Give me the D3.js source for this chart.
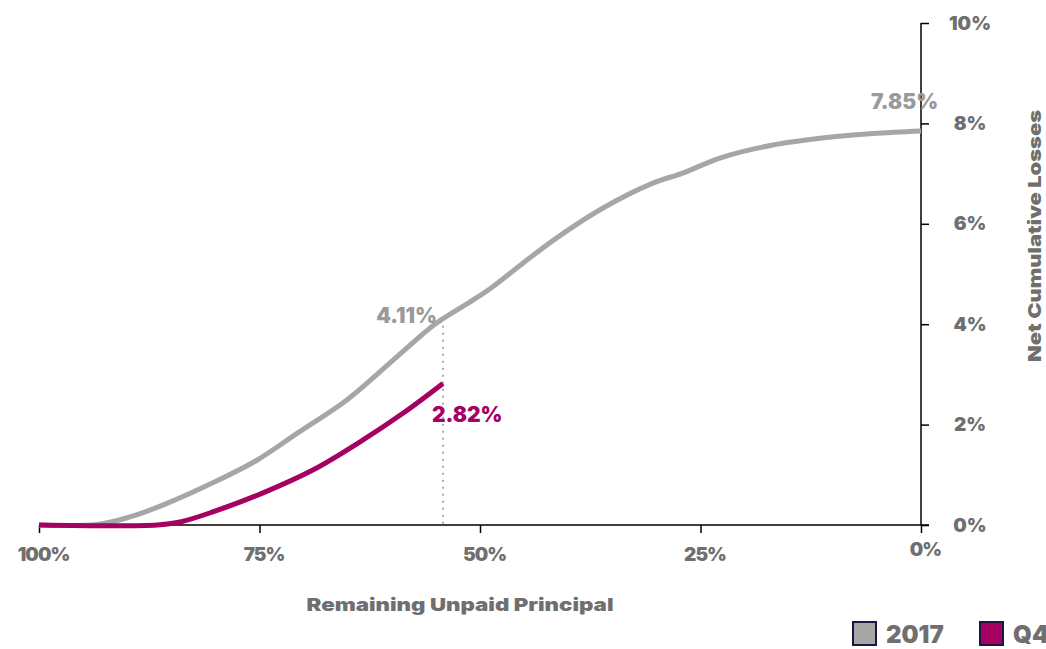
<!DOCTYPE html>
<html>
<head>
<meta charset="utf-8">
<script src="https://cdn.jsdelivr.net/npm/d3@7"></script>
<style>
  body { margin: 0; background: #fff; overflow: hidden; }
  text { font-family: Inter, "Open Sans", sans-serif; font-weight: 900; }
</style>
</head>
<body>
<div class="chart"></div>
<script>
// remaining unpaid principal (%) -> net cumulative losses (%)
const vintage2017Upb = [100, 93.4, 89.7, 85.9, 80.3, 75.3, 70.7, 65.1, 60.2, 55.7, 54.2, 50.8, 48.9, 45.1, 41.3, 36.1, 30.4, 27.0, 22.8, 16.8, 10.7, 5.4, 0];
const vintage2017Loss = [0, 0.01, 0.16, 0.40, 0.84, 1.29, 1.83, 2.49, 3.23, 3.92, 4.11, 4.48, 4.70, 5.22, 5.72, 6.31, 6.81, 7.01, 7.31, 7.57, 7.72, 7.80, 7.85];
const q4Upb = [100, 86.6, 84.0, 80.3, 74.6, 68.9, 63.3, 58.7, 54.2];
const q4Loss = [0, 0, 0.06, 0.26, 0.64, 1.10, 1.69, 2.23, 2.82];
const xTicks = [100, 75, 50, 25, 0];
const yTicks = [0, 2, 4, 6, 8, 10];
const legendLabels = ["2017", "Q4 2019"];

const grey = "#a6a6a6", magenta = "#a50062", labelGrey = "#6f6f6f";

const svg = d3.select(".chart").append("svg")
  .attr("width", 1046).attr("height", 649);

const x = d3.scaleLinear().domain([100, 0]).range([39, 921]);
const y = d3.scaleLinear().domain([0, 10]).range([525, 23]);

// axes
const xAxis = svg.append("g")
  .attr("transform", `translate(0, ${y(0)})`)
  .call(d3.axisBottom(x).tickValues(xTicks).tickSize(8).tickSizeOuter(0).tickFormat(d => d + "%"));
xAxis.select(".domain").attr("d", `M${x(100)},0H${x(0) + 8}`);
xAxis.selectAll("line, path").attr("stroke", "#000").attr("stroke-width", 1.5);
xAxis.selectAll("text")
  .attr("y", 23).attr("dx", 4)
  .attr("fill", labelGrey).style("font-size", "19px").style("letter-spacing", "-1px");
xAxis.selectAll(".tick").filter(d => d === 0).select("text").attr("y", 18);

const yAxis = svg.append("g")
  .attr("transform", `translate(${x(0)}, 0)`)
  .call(d3.axisRight(y).tickValues(yTicks).tickSize(8).tickSizeOuter(0).tickFormat(d => d + "%"));
yAxis.select(".domain").attr("d", `M0,${y(10)}V${y(0)}`);
yAxis.selectAll("line, path").attr("stroke", "#000").attr("stroke-width", 1.5);
yAxis.selectAll("text")
  .attr("x", 49).attr("text-anchor", "middle")
  .attr("fill", labelGrey).style("font-size", "19px");

// axis titles
svg.append("text")
  .attr("x", 460).attr("y", 611)
  .attr("text-anchor", "middle")
  .attr("fill", labelGrey).style("font-size", "18px")
  .attr("textLength", 307).attr("lengthAdjust", "spacingAndGlyphs")
  .text("Remaining Unpaid Principal");

svg.append("text")
  .attr("transform", "translate(1041, 236) rotate(-90)")
  .attr("text-anchor", "middle")
  .attr("fill", labelGrey).style("font-size", "18px")
  .attr("textLength", 252).attr("lengthAdjust", "spacingAndGlyphs")
  .text("Net Cumulative Losses");

// comparison marker
const markUpb = q4Upb[q4Upb.length - 1];
const markIdx = vintage2017Upb.indexOf(markUpb);
svg.append("line")
  .attr("x1", x(markUpb)).attr("x2", x(markUpb))
  .attr("y1", y(vintage2017Loss[markIdx])).attr("y2", y(0))
  .attr("stroke", "#aaaaaa").attr("stroke-width", 2)
  .attr("stroke-dasharray", "2,5");

// lines
const line = d3.line()
  .x(d => x(d[0])).y(d => y(d[1]))
  .curve(d3.curveCatmullRom.alpha(0.5));

svg.append("path")
  .datum(d3.zip(vintage2017Upb, vintage2017Loss))
  .attr("d", line)
  .attr("fill", "none").attr("stroke", grey).attr("stroke-width", 5)
  .attr("stroke-linejoin", "round");

svg.append("path")
  .datum(d3.zip(q4Upb, q4Loss))
  .attr("d", line)
  .attr("fill", "none").attr("stroke", magenta).attr("stroke-width", 5)
  .attr("stroke-linejoin", "round");

// value labels
svg.append("clipPath").attr("id", "labelClip")
  .append("rect").attr("x", 0).attr("y", 0).attr("width", 940).attr("height", 649);

svg.append("text")
  .attr("x", x(markUpb) - 6).attr("y", y(vintage2017Loss[markIdx]) + 4)
  .attr("text-anchor", "end")
  .attr("fill", "#9a9a9a").style("font-size", "21px")
  .text(vintage2017Loss[markIdx].toFixed(2) + "%");

svg.append("text")
  .attr("x", x(markUpb) - 11).attr("y", y(q4Loss[q4Loss.length - 1]) + 39)
  .attr("fill", magenta).style("font-size", "21px")
  .text(q4Loss[q4Loss.length - 1].toFixed(2) + "%");

svg.append("text")
  .attr("clip-path", "url(#labelClip)")
  .attr("x", x(0) - 50).attr("y", y(vintage2017Loss[vintage2017Loss.length - 1]) - 22)
  .attr("fill", "#9a9a9a").style("font-size", "21px")
  .text(vintage2017Loss[vintage2017Loss.length - 1].toFixed(2) + "%");

// legend
const legend = svg.append("g").attr("transform", "translate(852, 621)");
const items = legend.selectAll("g")
  .data(legendLabels)
  .enter().append("g")
  .attr("transform", (d, i) => `translate(${i * 127}, 0)`);
items.append("rect")
  .attr("x", 1).attr("y", 1).attr("width", 23).attr("height", 23)
  .attr("fill", (d, i) => i === 0 ? grey : magenta)
  .attr("stroke", "#1d1446").attr("stroke-width", 2);
items.append("text")
  .attr("x", 34).attr("y", 22)
  .attr("fill", labelGrey).style("font-size", "24px")
  .text(d => d);
</script>
</body>
</html>
